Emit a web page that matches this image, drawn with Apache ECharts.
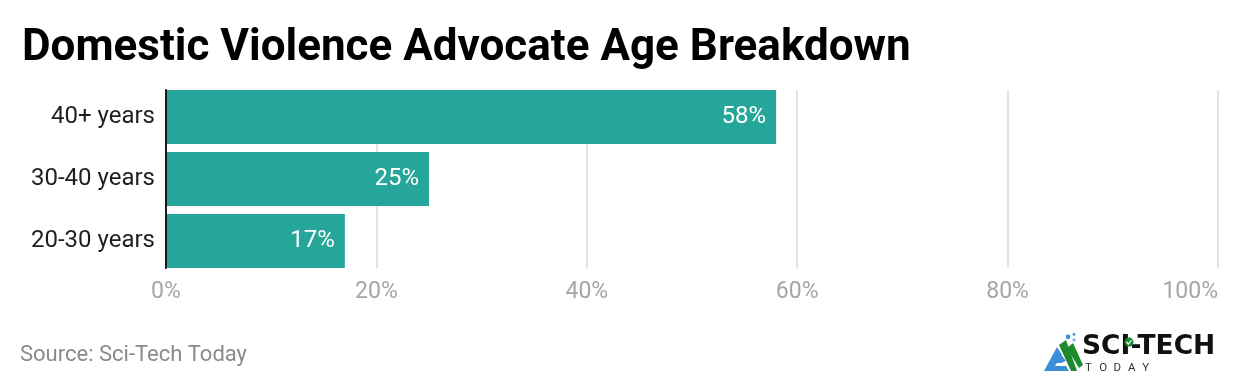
<!DOCTYPE html>
<html>
<head>
<meta charset="utf-8">
<script src="https://cdn.jsdelivr.net/npm/echarts@6/dist/echarts.min.js"></script>
<style>
html,body{margin:0;padding:0;background:#fff;}
#chart{width:1240px;height:390px;}
</style>
</head>
<body>
<div id="chart"></div>
<script>
const categories = ["20-30 years", "30-40 years", "40+ years"];
const values = [17, 25, 58];
const xTicks = [0, 20, 40, 60, 80, 100];
const titleText = "Domestic Violence Advocate Age Breakdown";
const sourceText = "Source: Sci-Tech Today";
const logoWord = "SCI-TECH";
const logoSub = ["T", "O", "D", "A", "Y"];

const chart = echarts.init(document.getElementById('chart'), null, {renderer: 'canvas'});
const FONT = 'Roboto';

const subLetters = logoSub.map((ch, i) => ({
  type: 'text', left: 1085 + i * 14.3, top: 362,
  style: {text: ch, fontFamily: FONT, fontSize: 11.5, fill: '#333'}
}));

const option = {
  backgroundColor: '#ffffff',
  animation: false,
  title: {
    text: titleText,
    left: 17, top: 22,
    textStyle: {fontFamily: FONT, fontWeight: 'bold', fontSize: 44, color: '#000'}
  },
  grid: [
    {left: 166, right: 22, top: 86, height: 186, containLabel: false},
    {left: 166, right: 22, top: 90, height: 178, containLabel: false}
  ],
  xAxis: [
    {gridIndex: 0, type: 'value', min: 0, max: 100, interval: 20, show: false},
    {gridIndex: 1, type: 'value', min: xTicks[0], max: xTicks[xTicks.length-1], interval: 20,
     axisLine: {show: false}, axisTick: {show: false},
     splitLine: {show: true, lineStyle: {color: '#e3e3e3', width: 2}},
     axisLabel: {formatter: v => v + '%', fontFamily: FONT, fontSize: 23, color: '#a6a6a6', margin: 13,
                 alignMaxLabel: 'right'}
    }
  ],
  yAxis: [
    {gridIndex: 0, type: 'category', data: categories,
     axisLine: {show: false}, axisTick: {show: false},
     axisLabel: {fontFamily: FONT, fontSize: 24, color: '#1f1f1f', margin: 11}
    },
    {gridIndex: 1, type: 'value', min: 0, max: 1,
     axisLine: {show: true, onZero: false, lineStyle: {color: '#1a1a1a', width: 2}},
     axisTick: {show: false}, axisLabel: {show: false}, splitLine: {show: false}, z: 10
    }
  ],
  series: [{
    type: 'bar', xAxisIndex: 0, yAxisIndex: 0,
    data: values,
    barWidth: 54,
    itemStyle: {color: '#26a69a'},
    z: 5,
    label: {
      show: true, position: 'insideRight', distance: 10,
      formatter: p => p.value + '%',
      fontFamily: FONT, fontSize: 24, color: '#ffffff'
    }
  }],
  graphic: [
    {type: 'text', left: 20, top: 344,
     style: {text: sourceText, fontFamily: FONT, fontSize: 22, fill: '#8a8a8a'}},
    // logo icon
    {type: 'group', left: 1044, top: 333, children: [
      {type: 'polygon', shape: {points: [[0,38],[13,14],[18,22],[11,33],[22,33],[25,38]]}, style: {fill: '#3b8fd6'}},
      {type: 'polygon', shape: {points: [[9,30],[16,20],[22,28],[17,30]]}, style: {fill: '#3b8fd6'}},
      {type: 'polygon', shape: {points: [[15,12],[22,7],[33,38],[27,38]]}, style: {fill: '#1e8a2e'}},
      {type: 'polygon', shape: {points: [[23,15],[29,10],[39,32],[35,35]]}, style: {fill: '#1e8a2e'}},
      {type: 'circle', shape: {cx: 24, cy: 4, r: 2.3}, style: {fill: '#3b8fd6'}},
      {type: 'circle', shape: {cx: 30, cy: 1.5, r: 1.4}, style: {fill: '#3b8fd6'}},
      {type: 'circle', shape: {cx: 30, cy: 7, r: 1.7}, style: {fill: '#7fb5e6'}}
    ]},
    {type: 'text', left: 1082, top: 334,
     style: {text: logoWord, fontFamily: 'DejaVu Sans', fontWeight: 'bold', fontSize: 26.5, fill: '#111'}},
    {type: 'circle', shape: {cx: 1129, cy: 342, r: 4.5}, style: {fill: '#1e8a2e'}},
    {type: 'polyline', shape: {points: [[1126.5, 342], [1128.5, 344], [1131.5, 340]]}, style: {stroke: '#fff', lineWidth: 1.2, fill: null}}
  ].concat(subLetters)
};
chart.setOption(option);
</script>
</body>
</html>
